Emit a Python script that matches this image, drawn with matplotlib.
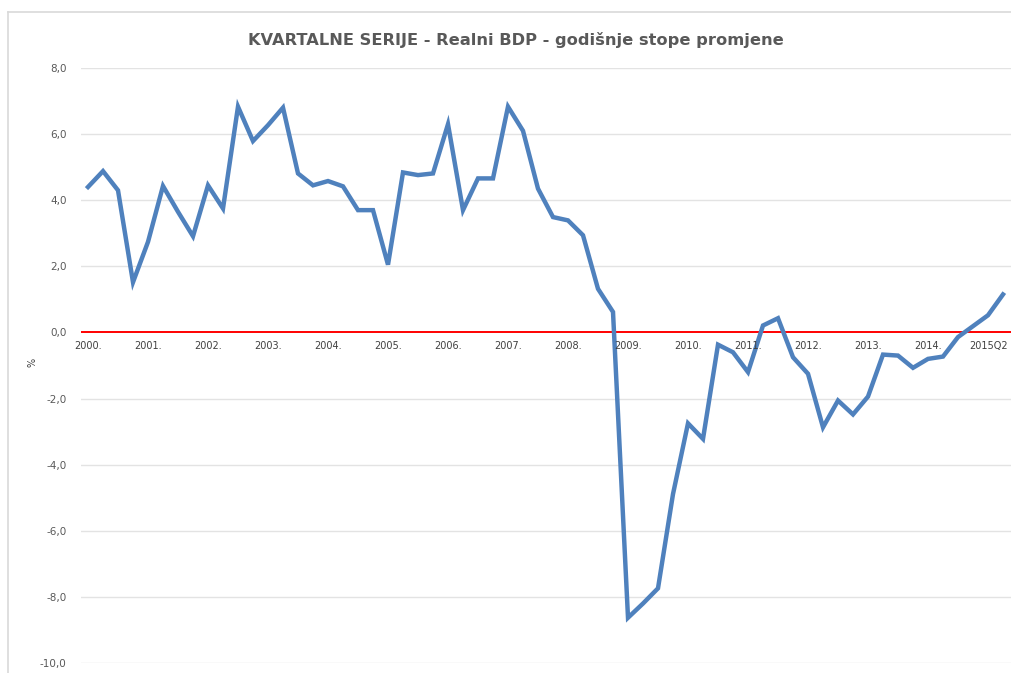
import matplotlib
matplotlib.use("Agg")
import matplotlib.pyplot as plt
import matplotlib.transforms as mtrans
from matplotlib.lines import Line2D
from matplotlib import font_manager

# Quarterly real GDP, annual rates of change (%), 2000Q1 .. 2015Q2
values = [
    4.40, 4.88, 4.30, 1.52,   # 2000
    2.74, 4.43, 3.65, 2.91,   # 2001
    4.45, 3.75, 6.83, 5.79,   # 2002
    6.27, 6.80, 4.81, 4.45,   # 2003
    4.58, 4.42, 3.70, 3.70,   # 2004
    2.05, 4.84, 4.76, 4.81,   # 2005
    6.30, 3.70, 4.66, 4.66,   # 2006
    6.83, 6.10, 4.35, 3.49,   # 2007
    3.39, 2.94, 1.32, 0.62,   # 2008
    -8.63, -8.20, -7.74, -4.89,  # 2009
    -2.75, -3.22, -0.37, -0.60,  # 2010
    -1.20, 0.21, 0.43, -0.75,    # 2011
    -1.25, -2.87, -2.06, -2.48,  # 2012
    -1.94, -0.67, -0.70, -1.07,  # 2013
    -0.80, -0.73, -0.14, 0.19,   # 2014
    0.52, 1.15,                  # 2015
]
year_labels = ["2000.", "2001.", "2002.", "2003.", "2004.", "2005.", "2006.",
               "2007.", "2008.", "2009.", "2010.", "2011.", "2012.", "2013.",
               "2014."]
last_label = "2015Q2"
y_ticks = [8, 6, 4, 2, 0, -2, -4, -6, -8, -10]
title = "KVARTALNE SERIJE - Realni BDP - godišnje stope promjene"

W, H = 1011, 673
fig = plt.figure(figsize=(W / 100, H / 100), dpi=100)
fig.patch.set_facecolor("white")

# chart-area border (partially cropped: top and left edges)
border = dict(transform=fig.transFigure, color="#d9d9d9", linewidth=1.2)
fig.add_artist(Line2D([8 / W, 1.0], [1 - 12 / H, 1 - 12 / H], **border))
fig.add_artist(Line2D([8 / W, 8 / W], [0.0, 1 - 12 / H], **border))

ax = fig.add_axes([80.5 / W, 1 - 663 / H, 930 / W, (663 - 68) / H])
ax.set_facecolor("none")

x = list(range(len(values)))
for t in y_ticks:
    if t != 0:
        ax.axhline(t, color="#e3e3e3", linewidth=1.0, zorder=1)
ax.axhline(0, color="#ff0000", linewidth=1.4, zorder=2)
ax.plot(x, values, color="#4f81bd", linewidth=3.2, solid_joinstyle="miter",
        zorder=3)

ax.set_xlim(-0.5, len(values) - 0.5)
ax.set_ylim(-10, 8)
ax.set_yticks(y_ticks)
ax.set_yticklabels([f"{t:.1f}".replace(".", ",") for t in y_ticks],
                   fontsize=7.5, color="#595959")
ax.tick_params(axis="y", length=0, pad=10)
ax.set_xticks([])
for s in ax.spines.values():
    s.set_visible(False)

# category labels just under the zero line
off = mtrans.offset_copy(ax.transData, fig=fig, x=0, y=-14, units="dots")
for i, lab in enumerate(year_labels):
    ax.text(4 * i, 0, lab, transform=off, ha="center", va="center",
            fontsize=7, color="#404040")
off_last = mtrans.offset_copy(ax.transData, fig=fig, x=5, y=-14, units="dots")
ax.text(len(values) - 1, 0, last_label, transform=off_last, ha="right",
        va="center", fontsize=7, color="#404040")

fig.text(32 / W, 1 - 362 / H, "%", rotation=90, ha="center", va="center",
         fontsize=7, color="#404040")

# title: pick a narrow family when available and fit its width (~533 px)
names = {f.name for f in font_manager.fontManager.ttflist}
fam = "Liberation Sans Narrow" if "Liberation Sans Narrow" in names else "DejaVu Sans"
t = fig.text(516 / W, 1 - 40 / H, title, ha="center", va="center",
             fontsize=14, fontweight="bold", color="#595959", family=fam)
fig.canvas.draw()
w = t.get_window_extent(fig.canvas.get_renderer()).width
t.set_fontsize(14 * 533 / w)

fig.savefig("out.png", dpi=100, facecolor="white")
